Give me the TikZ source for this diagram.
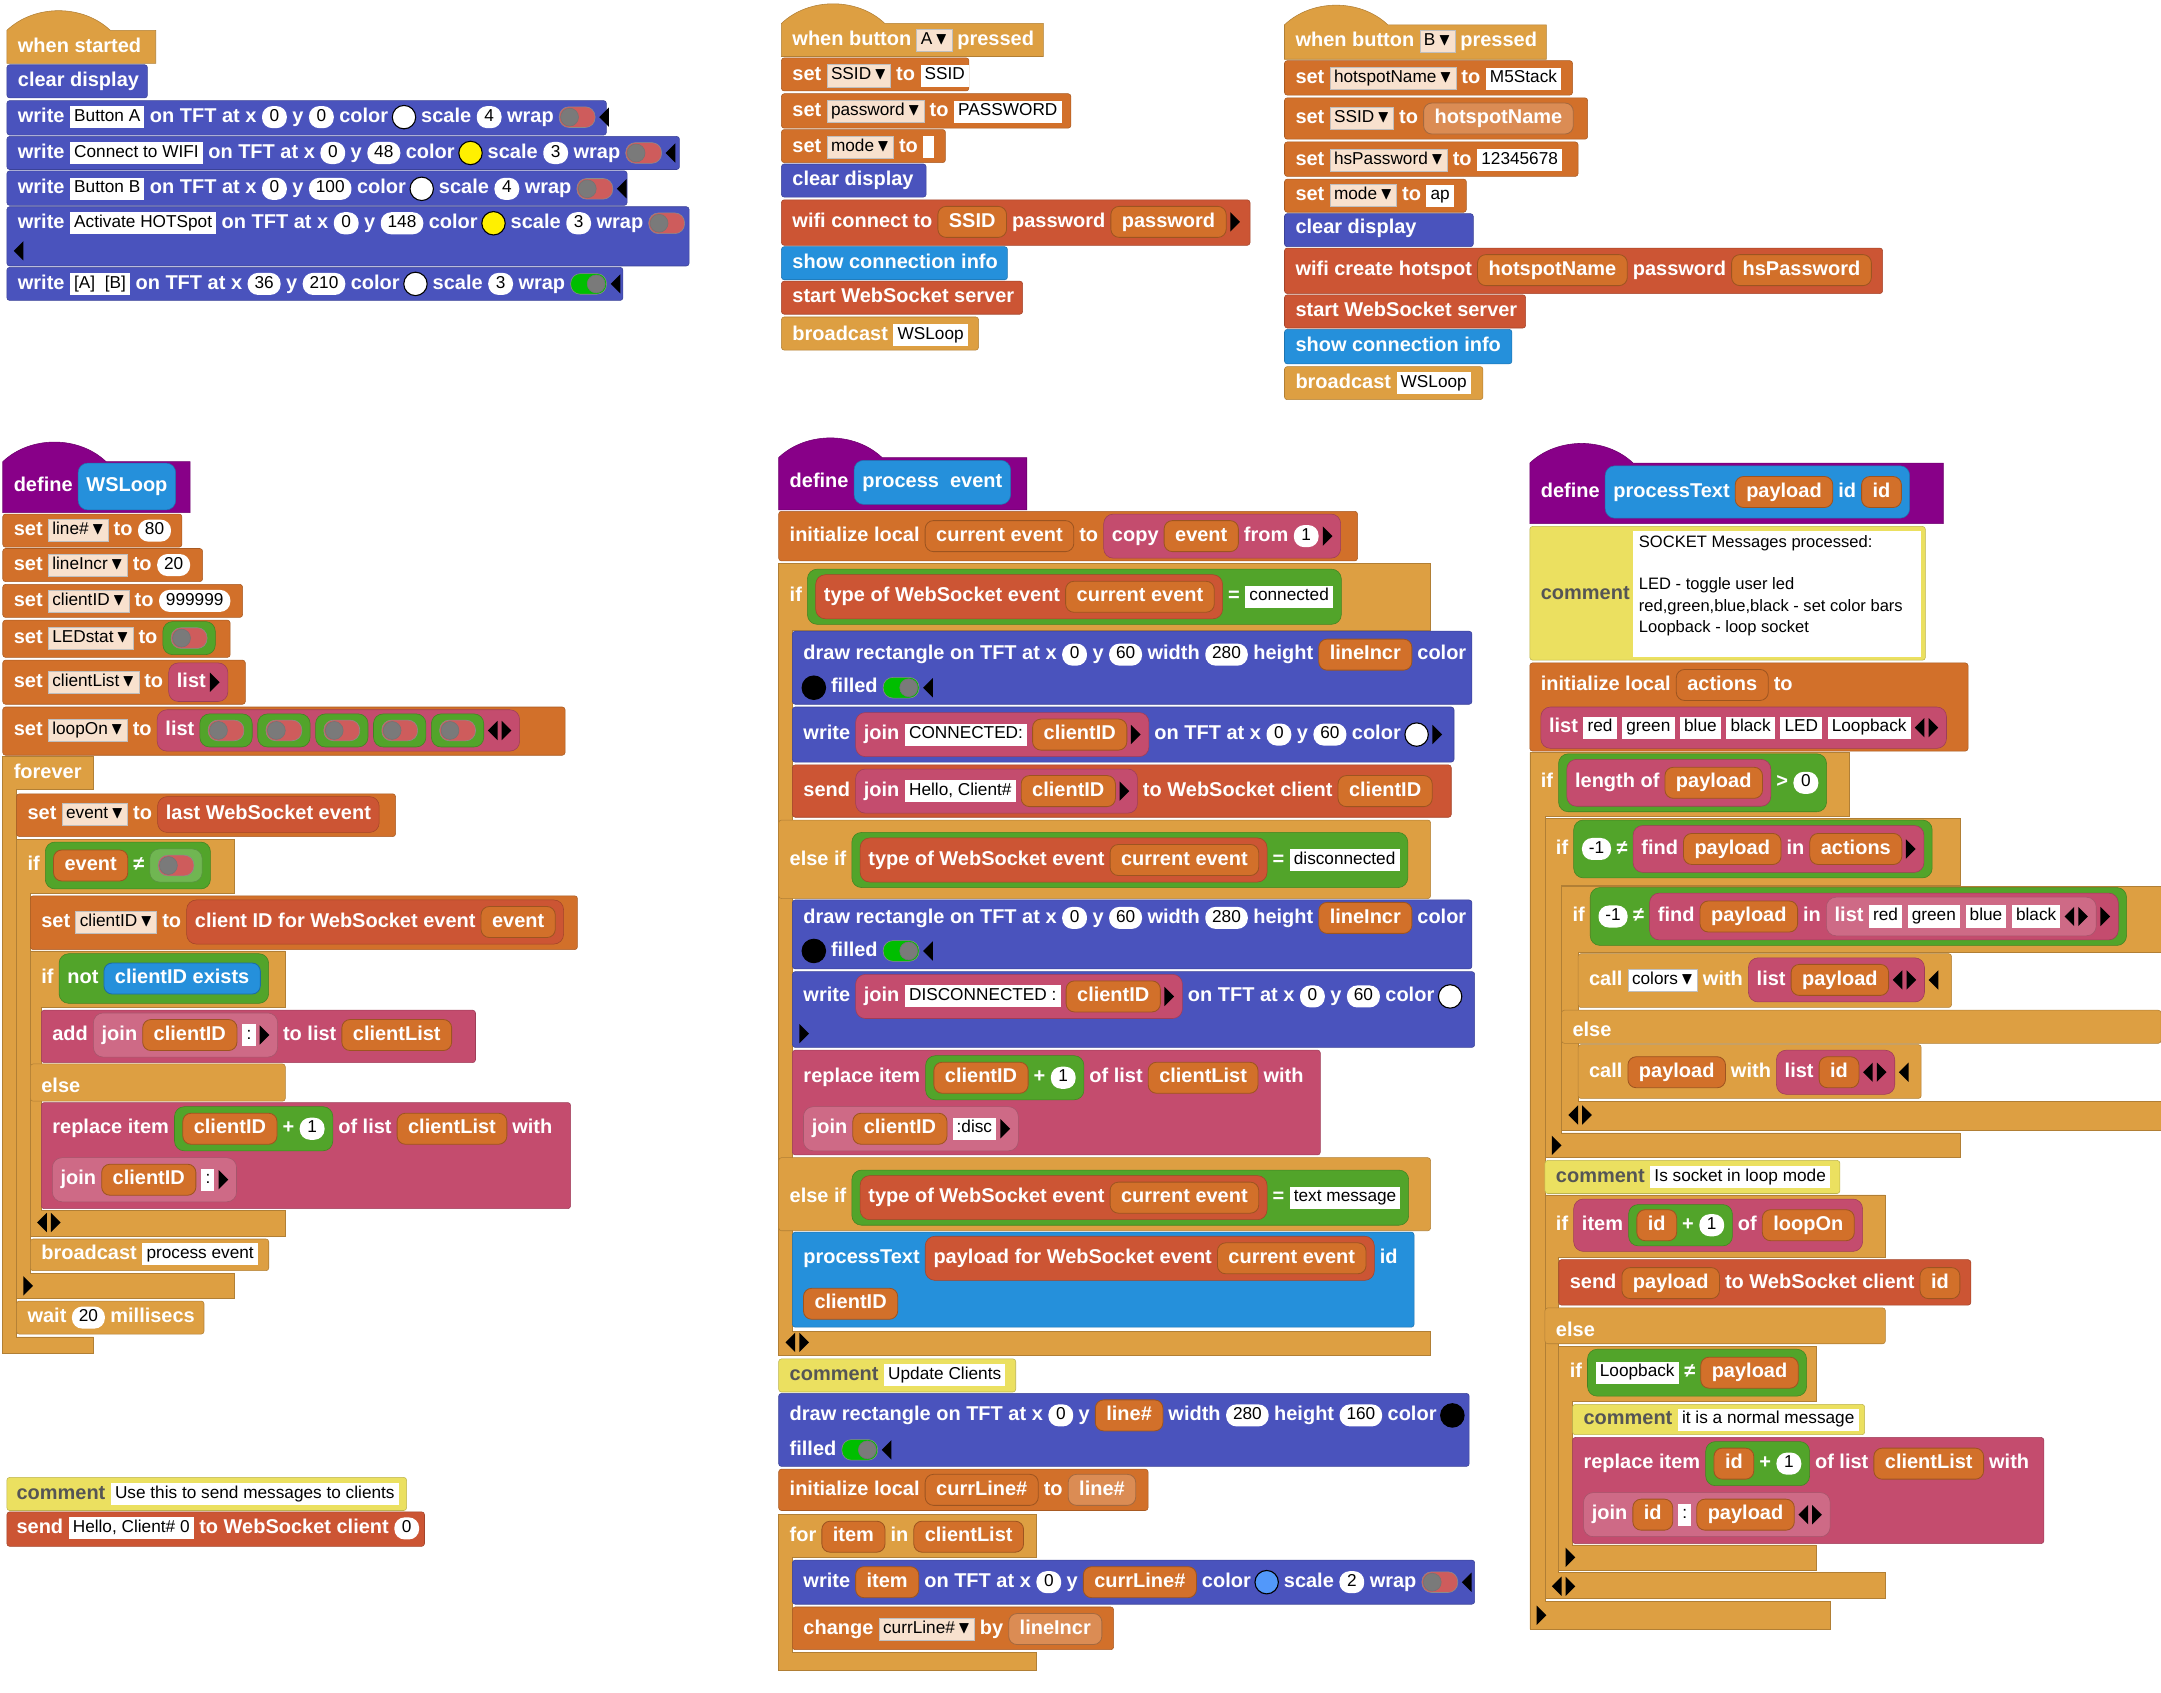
\documentclass[tikz,border=0pt]{standalone}
\usepackage{amssymb}
\usepackage{fontspec}
\setmainfont{Liberation Sans}
\usetikzlibrary{positioning,calc}
\pgfdeclarelayer{b0}\pgfdeclarelayer{b1}\pgfdeclarelayer{b2}\pgfdeclarelayer{b3}
\pgfsetlayers{b0,b1,b2,b3,main}
\definecolor{cCtl}{RGB}{221,159,66}
\definecolor{cDisp}{RGB}{74,83,189}
\definecolor{cVar}{RGB}{210,112,42}
\definecolor{cVarL}{RGB}{219,140,84}
\definecolor{cWs}{RGB}{204,85,52}
\definecolor{cCyan}{RGB}{37,144,219}
\definecolor{cPurp}{RGB}{136,0,136}
\definecolor{cPink}{RGB}{196,76,110}
\definecolor{cPinkL}{RGB}{206,106,134}
\definecolor{cGrn}{RGB}{82,164,42}
\definecolor{cGrnL}{RGB}{112,182,82}
\definecolor{cCmt}{RGB}{235,224,96}
\definecolor{cCmtTxt}{RGB}{85,85,85}
\definecolor{cDd}{RGB}{248,225,206}
\definecolor{cTred}{RGB}{206,92,92}
\definecolor{cTgrn}{RGB}{0,190,0}
\definecolor{cKnob}{RGB}{122,122,122}
\definecolor{cLblue}{RGB}{82,152,250}
\definecolor{cYel}{RGB}{255,240,0}
\tikzset{
  anch/.style={inner sep=0pt,minimum size=0pt,outer sep=0pt},
  lbl/.style={inner sep=0pt,outer sep=0pt,text=white,font=\bfseries\fontsize{14.5}{14.5}\selectfont,text height=10.5pt,text depth=3pt},
  cmtlbl/.style={text=cCmtTxt},
  fld/.style={fill=white,inner xsep=3pt,inner ysep=2pt,outer sep=0pt,minimum width=8pt,text=black,font=\fontsize{12.5}{13}\selectfont,text height=9pt,text depth=3pt},
  numfld/.style={fld,rounded corners=7.5pt,minimum width=18pt,inner xsep=5pt},
  ddn/.style={fld,draw=black!25,line width=0.4pt},
  rep/.style={lbl,inner xsep=8pt,inner ysep=4.5pt,rounded corners=6pt,line width=0.6pt},
  swatch/.style={circle,draw=black,line width=0.8pt,minimum size=17pt,inner sep=0pt,outer sep=0pt},
  tgoff/.style={rounded corners=7pt,minimum width=26pt,minimum height=15pt,inner sep=0pt,outer sep=0pt,fill=cTred,draw=black!45,
    path picture={\fill[cKnob,draw=black!55] ([xshift=7.5pt]path picture bounding box.west) circle (6.5pt);}},
  tgon/.style={tgoff,fill=cTgrn,
    path picture={\fill[cKnob,draw=black!55] ([xshift=-7.5pt]path picture bounding box.east) circle (6.5pt);}},
}
% blocks
\newcommand\blk[5]{\begin{pgfonlayer}{b0}\path[fill=#1,draw=#1!80!black,rounded corners=2pt] (#2,#3) rectangle (#4,#5);\end{pgfonlayer}}
\newcommand\hatblk[5]{\begin{pgfonlayer}{b0}\path[fill=#1,draw=#1!80!black] (#2,#5) -- (#2,#3) .. controls ($(#2,#3)+(20,-19)$) and ($(#2,#3)+(55,-19)$) .. ($(#2,#3)+(75,0)$) -- (#4,#3) -- (#4,#5) -- cycle;\end{pgfonlayer}}
\newcommand\cblk[9]{\begin{pgfonlayer}{b0}\path[fill=#1,draw=#1!80!black] (#2,#3) -- (#4,#3) -- (#4,#5) -- ({#2+#9},#5) -- ({#2+#9},#6) -- (#8,#6) -- (#8,#7) -- (#2,#7) -- cycle;\end{pgfonlayer}}
% row items
\newcommand\rowp[2]{\node[anch] (p) at (#1,#2) {};}
\newcommand\wlbl[2][]{\node[lbl,#1,right=4pt of p] (p) {#2};}
\newcommand\wfld[1]{\node[fld,right=4pt of p] (p) {#1};}
\newcommand\wnum[1]{\node[numfld,right=4pt of p] (p) {#1};}
\newcommand\wdd[2][cDd]{\node[ddn,fill=#1,right=4pt of p] (p) {#2\,$\blacktriangledown$};}
\newcommand\wvar[2][cVar]{\node[rep,fill=#1,draw=#1!75!black,right=4pt of p] (p) {#2};}
\newcommand\wcol[1]{\node[swatch,fill=#1,right=3pt of p] (p) {};}
\newcommand\wtog[1]{\node[#1,right=4pt of p] (p) {};}
\newcommand\tril{\node[anch,right=3pt of p] (p) {};\fill (p.center) -- ++(7,-7) -- ++(0,14) -- cycle;\node[anch] (p) at ($(p)+(7,0)$) {};}
\newcommand\trir{\node[anch,right=3pt of p] (p) {};\fill ($(p)+(0,-7)$) -- ++(7,7) -- ++(-7,7) -- cycle;\node[anch] (p) at ($(p)+(7,0)$) {};}
\newcommand\bro[1]{\node[anch,right=4pt of p] (o#1) {};\node[anch] (p) at ($(o#1)+(2,0)$) {};}
\newcommand\brc[3]{\begin{pgfonlayer}{b#1}\path[fill=#2,draw=#2!80!black,rounded corners=7pt] ($(o#1)+(0,#3/2)$) rectangle ($(p.east)+(6,-#3/2)$);\end{pgfonlayer}\node[anch] (p) at ($(p.east)+(6,0)$) {};}
\begin{document}
\begin{tikzpicture}[x=1pt,y=-1pt]
  \useasboundingbox (0,0) rectangle (1568,1228);
  % when started
  \hatblk{cCtl}{5}{22}{113}{46}\rowp{9}{34}\wlbl{when started}
  \blk{cDisp}{5}{47}{107}{71}\rowp{9}{59}\wlbl{clear display}
  \blk{cDisp}{5}{73}{440}{98}\rowp{9}{85}\wlbl{write}\wfld{Button A}\wlbl{on TFT at x}\wnum{0}\wlbl{y}\wnum{0}\wlbl{color}\wcol{white}\wlbl{scale}\wnum{4}\wlbl{wrap}\wtog{tgoff}\tril
  \blk{cDisp}{5}{99}{493}{123}\rowp{9}{111}\wlbl{write}\wfld{Connect to WIFI}\wlbl{on TFT at x}\wnum{0}\wlbl{y}\wnum{48}\wlbl{color}\wcol{cYel}\wlbl{scale}\wnum{3}\wlbl{wrap}\wtog{tgoff}\tril
  \blk{cDisp}{5}{124}{455}{149}\rowp{9}{137}\wlbl{write}\wfld{Button B}\wlbl{on TFT at x}\wnum{0}\wlbl{y}\wnum{100}\wlbl{color}\wcol{white}\wlbl{scale}\wnum{4}\wlbl{wrap}\wtog{tgoff}\tril
  \blk{cDisp}{5}{150}{500}{193}\rowp{9}{162}\wlbl{write}\wfld{Activate HOTSpot}\wlbl{on TFT at x}\wnum{0}\wlbl{y}\wnum{148}\wlbl{color}\wcol{cYel}\wlbl{scale}\wnum{3}\wlbl{wrap}\wtog{tgoff}
  \rowp{7}{182}\tril
  \blk{cDisp}{5}{194}{452}{218}\rowp{9}{206}\wlbl{write}\wfld{[A]\ \ [B]}\wlbl{on TFT at x}\wnum{36}\wlbl{y}\wnum{210}\wlbl{color}\wcol{white}\wlbl{scale}\wnum{3}\wlbl{wrap}\wtog{tgon}\tril
  % when button A
  \hatblk{cCtl}{567}{17}{757}{41}\rowp{571}{29}\wlbl{when button}\wdd{A}\wlbl{pressed}
  \blk{cVar}{567}{42}{703}{66}\rowp{571}{55}\wlbl{set}\wdd{SSID}\wlbl{to}\wfld{SSID}
  \blk{cVar}{567}{68}{777}{93}\rowp{571}{81}\wlbl{set}\wdd{password}\wlbl{to}\wfld{PASSWORD}
  \blk{cVar}{567}{94}{686}{118}\rowp{571}{107}\wlbl{set}\wdd{mode}\wlbl{to}\wfld{}
  \blk{cDisp}{567}{119}{672}{143}\rowp{571}{131}\wlbl{clear display}
  \blk{cWs}{567}{145}{907}{178}\rowp{571}{161}\wlbl{wifi connect to}\wvar{SSID}\wlbl{password}\wvar{password}\trir
  \blk{cCyan}{567}{179}{731}{203}\rowp{571}{191}\wlbl{show connection info}
  \blk{cWs}{567}{204}{742}{228}\rowp{571}{216}\wlbl{start WebSocket server}
  \blk{cCtl}{567}{230}{710}{254}\rowp{571}{243}\wlbl{broadcast}\wfld{WSLoop}
  % when button B
  \hatblk{cCtl}{932}{18}{1122}{43}\rowp{936}{30}\wlbl{when button}\wdd{B}\wlbl{pressed}
  \blk{cVar}{932}{44}{1141}{69}\rowp{936}{57}\wlbl{set}\wdd{hotspotName}\wlbl{to}\wfld{M5Stack}
  \blk{cVar}{932}{71}{1152}{101}\rowp{936}{86}\wlbl{set}\wdd{SSID}\wlbl{to}\wvar[cVarL]{hotspotName}
  \blk{cVar}{932}{103}{1145}{128}\rowp{936}{116}\wlbl{set}\wdd{hsPassword}\wlbl{to}\wfld{12345678}
  \blk{cVar}{932}{130}{1064}{154}\rowp{936}{142}\wlbl{set}\wdd{mode}\wlbl{to}\wfld{ap}
  \blk{cDisp}{932}{155}{1069}{179}\rowp{936}{166}\wlbl{clear display}
  \blk{cWs}{932}{180}{1366}{213}\rowp{936}{196}\wlbl{wifi create hotspot}\wvar{hotspotName}\wlbl{password}\wvar{hsPassword}
  \blk{cWs}{932}{214}{1107}{238}\rowp{936}{226}\wlbl{start WebSocket server}
  \blk{cCyan}{932}{239}{1097}{264}\rowp{936}{251}\wlbl{show connection info}
  \blk{cCtl}{932}{266}{1076}{290}\rowp{936}{278}\wlbl{broadcast}\wfld{WSLoop}
  % define WSLoop
  \hatblk{cPurp}{2}{335}{138}{372}\rowp{6}{353}\wlbl{define}\bro{1}\wlbl{WSLoop}\brc{1}{cCyan}{34}
  \blk{cVar}{2}{373}{132}{397}\rowp{6}{385}\wlbl{set}\wdd{line\#}\wlbl{to}\wnum{80}
  \blk{cVar}{2}{398}{147}{422}\rowp{6}{410}\wlbl{set}\wdd{lineIncr}\wlbl{to}\wnum{20}
  \blk{cVar}{2}{424}{176}{448}\rowp{6}{436}\wlbl{set}\wdd{clientID}\wlbl{to}\wnum{999999}
  \blk{cVar}{2}{450}{167}{477}\rowp{6}{463}\wlbl{set}\wdd{LEDstat}\wlbl{to}\bro{1}\wtog{tgoff}\brc{1}{cGrn}{24}
  \blk{cVar}{2}{479}{178}{511}\rowp{6}{495}\wlbl{set}\wdd{clientList}\wlbl{to}\bro{1}\wlbl{list}\trir\brc{1}{cPink}{28}
  \blk{cVar}{2}{513}{410}{548}\rowp{6}{530}\wlbl{set}\wdd{loopOn}\wlbl{to}\bro{1}\wlbl{list}
    \bro{2}\wtog{tgoff}\brc{2}{cGrn}{24}\bro{2}\wtog{tgoff}\brc{2}{cGrn}{24}\bro{2}\wtog{tgoff}\brc{2}{cGrn}{24}
    \bro{2}\wtog{tgoff}\brc{2}{cGrn}{24}\bro{2}\wtog{tgoff}\brc{2}{cGrn}{24}\tril\trir\brc{1}{cPink}{30}
  \cblk{cCtl}{2}{549}{68}{573}{970}{982}{68}{10}\rowp{6}{561}\wlbl{forever}
  \blk{cVar}{12}{576}{287}{607}\rowp{16}{591}\wlbl{set}\wdd{event}\wlbl{to}\bro{1}\wlbl{last WebSocket event}\brc{1}{cWs}{26}
  \cblk{cCtl}{12}{609}{170}{648}{924}{942}{170}{10}\rowp{16}{628}\wlbl{if}\bro{1}\wvar{event}\wlbl{≠}\bro{2}\wtog{tgoff}\brc{2}{cGrnL}{24}\brc{1}{cGrn}{34}
  \blk{cVar}{22}{650}{419}{689}\rowp{26}{669}\wlbl{set}\wdd{clientID}\wlbl{to}\bro{1}\wlbl{client ID for WebSocket event}\wvar{event}\brc{1}{cWs}{32}
  \cblk{cCtl}{22}{690}{207}{731}{878}{897}{207}{8}\rowp{26}{710}\wlbl{if}\bro{1}\wlbl{not}\wvar[cCyan]{clientID exists}\brc{1}{cGrn}{36}
  \blk{cPink}{30}{733}{345}{771}\rowp{34}{751}\wlbl{add}\bro{1}\wlbl{join}\wvar{clientID}\wfld{:}\trir\brc{1}{cPinkL}{32}\wlbl{to list}\wvar{clientList}
  \blk{cCtl}{22}{772}{207}{799}\rowp{26}{789}\wlbl{else}
  \blk{cPink}{30}{800}{414}{877}\rowp{34}{819}\wlbl{replace item}\bro{1}\wvar{clientID}\wlbl{+}\wnum{1}\brc{1}{cGrn}{32}\wlbl{of list}\wvar{clientList}\wlbl{with}
  \rowp{34}{856}\bro{1}\wlbl{join}\wvar{clientID}\wfld{:}\trir\brc{1}{cPinkL}{32}
  \rowp{24}{887}\tril\trir
  \blk{cCtl}{22}{899}{195}{922}\rowp{26}{910}\wlbl{broadcast}\wfld{process event}
  \rowp{14}{933}\trir
  \blk{cCtl}{12}{944}{148}{968}\rowp{16}{956}\wlbl{wait}\wnum{20}\wlbl{millisecs}
  % comment and send
  \blk{cCmt}{5}{1072}{295}{1096}\rowp{8}{1084}\wlbl[cmtlbl]{comment}\wfld{Use this to send messages to clients}
  \blk{cWs}{5}{1097}{308}{1122}\rowp{8}{1109}\wlbl{send}\wfld{Hello, Client\# 0}\wlbl{to WebSocket client}\wnum{0}
  % define process event
  \hatblk{cPurp}{565}{332}{745}{370}\rowp{569}{350}\wlbl{define}\bro{1}\wlbl{process\ \ event}\brc{1}{cCyan}{32}
  \blk{cVar}{565}{371}{985}{407}\rowp{569}{389}\wlbl{initialize local}\wvar{current event}\wlbl{to}\bro{1}\wlbl{copy}\wvar{event}\wlbl{from}\wnum{1}\trir\brc{1}{cPink}{32}
  \cblk{cCtl}{565}{409}{1038}{457}{966}{983}{1038}{10}\rowp{569}{433}\wlbl{if}\bro{1}\bro{2}\wlbl{type of WebSocket event}\wvar{current event}\brc{2}{cWs}{32}\wlbl{=}\wfld{connected}\brc{1}{cGrn}{40}
  \blk{cDisp}{575}{458}{1068}{511}\rowp{579}{475}\wlbl{draw rectangle on TFT at x}\wnum{0}\wlbl{y}\wnum{60}\wlbl{width}\wnum{280}\wlbl{height}\wvar{lineIncr}\wlbl{color}
  \rowp{579}{499}\wcol{black}\wlbl{filled}\wtog{tgon}\tril
  \blk{cDisp}{575}{513}{1055}{553}\rowp{579}{533}\wlbl{write}\bro{1}\wlbl{join}\wfld{CONNECTED:}\wvar{clientID}\trir\brc{1}{cPink}{32}\wlbl{on TFT at x}\wnum{0}\wlbl{y}\wnum{60}\wlbl{color}\wcol{white}\trir
  \blk{cWs}{575}{555}{1053}{593}\rowp{579}{574}\wlbl{send}\bro{1}\wlbl{join}\wfld{Hello, Client\#}\wvar{clientID}\trir\brc{1}{cPink}{32}\wlbl{to WebSocket client}\wvar{clientID}
  \blk{cCtl}{565}{595}{1038}{652}\rowp{569}{624}\wlbl{else if}\bro{1}\bro{2}\wlbl{type of WebSocket event}\wvar{current event}\brc{2}{cWs}{32}\wlbl{=}\wfld{disconnected}\brc{1}{cGrn}{40}
  \blk{cDisp}{575}{653}{1068}{703}\rowp{579}{666}\wlbl{draw rectangle on TFT at x}\wnum{0}\wlbl{y}\wnum{60}\wlbl{width}\wnum{280}\wlbl{height}\wvar{lineIncr}\wlbl{color}
  \rowp{579}{690}\wcol{black}\wlbl{filled}\wtog{tgon}\tril
  \blk{cDisp}{575}{705}{1070}{760}\rowp{579}{723}\wlbl{write}\bro{1}\wlbl{join}\wfld{DISCONNECTED :}\wvar{clientID}\trir\brc{1}{cPink}{32}\wlbl{on TFT at x}\wnum{0}\wlbl{y}\wnum{60}\wlbl{color}\wcol{white}
  \rowp{577}{750}\trir
  \blk{cPink}{575}{762}{958}{838}\rowp{579}{782}\wlbl{replace item}\bro{1}\wvar{clientID}\wlbl{+}\wnum{1}\brc{1}{cGrn}{32}\wlbl{of list}\wvar{clientList}\wlbl{with}
  \rowp{579}{819}\bro{1}\wlbl{join}\wvar{clientID}\wfld{:disc}\trir\brc{1}{cPinkL}{32}
  \blk{cCtl}{565}{840}{1038}{893}\rowp{569}{869}\wlbl{else if}\bro{1}\bro{2}\wlbl{type of WebSocket event}\wvar{current event}\brc{2}{cWs}{32}\wlbl{=}\wfld{text message}\brc{1}{cGrn}{40}
  \blk{cCyan}{575}{894}{1026}{963}\rowp{579}{913}\wlbl{processText}\bro{1}\wlbl{payload for WebSocket event}\wvar{current event}\brc{1}{cWs}{32}\wlbl{id}
  \rowp{579}{946}\wvar{clientID}
  \rowp{567}{974}\tril\trir
  \blk{cCmt}{565}{986}{737}{1010}\rowp{569}{998}\wlbl[cmtlbl]{comment}\wfld{Update Clients}
  \blk{cDisp}{565}{1011}{1066}{1064}\rowp{569}{1027}\wlbl{draw rectangle on TFT at x}\wnum{0}\wlbl{y}\wvar{line\#}\wlbl{width}\wnum{280}\wlbl{height}\wnum{160}\wlbl{color}\wcol{black}
  \rowp{569}{1052}\wlbl{filled}\wtog{tgon}\tril
  \blk{cVar}{565}{1066}{833}{1096}\rowp{569}{1081}\wlbl{initialize local}\wvar{currLine\#}\wlbl{to}\wvar[cVarL]{line\#}
  \cblk{cCtl}{565}{1099}{752}{1130}{1199}{1212}{752}{10}\rowp{569}{1115}\wlbl{for}\wvar{item}\wlbl{in}\wvar{clientList}
  \blk{cDisp}{575}{1132}{1070}{1164}\rowp{579}{1148}\wlbl{write}\wvar{item}\wlbl{on TFT at x}\wnum{0}\wlbl{y}\wvar{currLine\#}\wlbl{color}\wcol{cLblue}\wlbl{scale}\wnum{2}\wlbl{wrap}\wtog{tgoff}\tril
  \blk{cVar}{575}{1166}{808}{1197}\rowp{579}{1182}\wlbl{change}\wdd{currLine\#}\wlbl{by}\wvar[cVarL]{lineIncr}
  % define processText
  \hatblk{cPurp}{1110}{336}{1410}{380}\rowp{1114}{357}\wlbl{define}\bro{1}\wlbl{processText}\wvar{payload}\wlbl{id}\wvar{id}\brc{1}{cCyan}{38}
  \blk{cCmt}{1110}{382}{1397}{479}\rowp{1114}{431}\wlbl[cmtlbl]{comment}
  \fill[white] (1185,385) rectangle (1394,477);
  \node[anchor=north west,inner sep=0pt,align=left,font=\fontsize{12}{15.5}\selectfont] (cmtbody) at (1189,388)
    {SOCKET Messages processed:\\\mbox{}\\LED - toggle user led\\red,green,blue,black - set color bars\\Loopback - loop socket};
  \blk{cVar}{1110}{481}{1428}{545}\rowp{1114}{497}\wlbl{initialize local}\wvar{actions}\wlbl{to}
  \rowp{1114}{528}\bro{1}\wlbl{list}\wfld{red}\wfld{green}\wfld{blue}\wfld{black}\wfld{LED}\wfld{Loopback}\tril\trir\brc{1}{cPink}{30}
  \cblk{cCtl}{1110}{546}{1342}{592}{1162}{1182}{1328}{11}\rowp{1114}{568}\wlbl{if}\bro{1}\bro{2}\wlbl{length of}\wvar{payload}\brc{2}{cPink}{34}\wlbl{>}\wnum{0}\brc{1}{cGrn}{42}
  \cblk{cCtl}{1121}{594}{1422}{642}{822}{840}{1422}{12}\rowp{1125}{616}\wlbl{if}\bro{1}\wnum{-1}\wlbl{≠}\bro{2}\wlbl{find}\wvar{payload}\wlbl{in}\wvar{actions}\trir\brc{2}{cPink}{34}\brc{1}{cGrn}{42}
  \cblk{cCtl}{1133}{643}{1568}{691}{799}{820}{1568}{12}\rowp{1137}{665}\wlbl{if}\bro{1}\wnum{-1}\wlbl{≠}\bro{2}\wlbl{find}\wvar{payload}\wlbl{in}\bro{3}\wlbl{list}\wfld{red}\wfld{green}\wfld{blue}\wfld{black}\tril\trir\brc{3}{cPinkL}{28}\trir\brc{2}{cPink}{34}\brc{1}{cGrn}{42}
  \blk{cCtl}{1145}{692}{1416}{731}\rowp{1149}{711}\wlbl{call}\wdd[white]{colors}\wlbl{with}\bro{1}\wlbl{list}\wvar{payload}\tril\trir\brc{1}{cPink}{32}\tril
  \blk{cCtl}{1133}{733}{1568}{757}\rowp{1137}{748}\wlbl{else}
  \blk{cCtl}{1145}{758}{1394}{797}\rowp{1149}{778}\wlbl{call}\wvar{payload}\wlbl{with}\bro{1}\wlbl{list}\wvar{id}\tril\trir\brc{1}{cPink}{32}\tril
  \rowp{1135}{809}\tril\trir
  \rowp{1123}{831}\trir
  \blk{cCmt}{1121}{842}{1335}{866}\rowp{1125}{854}\wlbl[cmtlbl]{comment}\wfld{Is socket in loop mode}
  \cblk{cCtl}{1121}{867}{1368}{912}{1141}{1160}{1368}{10}\rowp{1125}{889}\wlbl{if}\bro{1}\wlbl{item}\bro{2}\wvar{id}\wlbl{+}\wnum{1}\brc{2}{cGrn}{30}\wlbl{of}\wvar{loopOn}\brc{1}{cPink}{38}
  \blk{cWs}{1131}{914}{1430}{947}\rowp{1135}{931}\wlbl{send}\wvar{payload}\wlbl{to WebSocket client}\wvar{id}
  \blk{cCtl}{1121}{949}{1368}{975}\rowp{1125}{966}\wlbl{else}
  \cblk{cCtl}{1131}{977}{1318}{1017}{1121}{1139}{1318}{10}\rowp{1135}{996}\wlbl{if}\bro{1}\wfld{Loopback}\wlbl{≠}\wvar{payload}\brc{1}{cGrn}{34}
  \blk{cCmt}{1141}{1019}{1353}{1041}\rowp{1145}{1030}\wlbl[cmtlbl]{comment}\wfld{it is a normal message}
  \blk{cPink}{1141}{1043}{1483}{1120}\rowp{1145}{1062}\wlbl{replace item}\bro{1}\wvar{id}\wlbl{+}\wnum{1}\brc{1}{cGrn}{32}\wlbl{of list}\wvar{clientList}\wlbl{with}
  \rowp{1145}{1099}\bro{1}\wlbl{join}\wvar{id}\wfld{:}\wvar{payload}\tril\trir\brc{1}{cPinkL}{32}
  \rowp{1133}{1130}\trir
  \rowp{1123}{1151}\tril\trir
  \rowp{1112}{1172}\trir
\end{tikzpicture}
\end{document}
